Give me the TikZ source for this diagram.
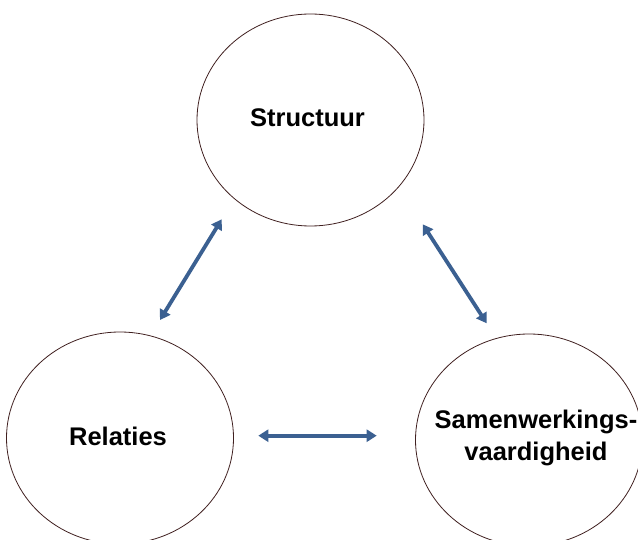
\documentclass[tikz,border=0pt]{standalone}
\usepackage{fontspec}
\setmainfont{Liberation Sans}
\usetikzlibrary{shapes.geometric}
\usetikzlibrary{arrows.meta}
\definecolor{pijlblauw}{RGB}{59,96,145}
\definecolor{randbruin}{RGB}{64,32,32}
\tikzstyle{cirkel} = [ellipse, minimum width=227pt, minimum height=212pt, inner sep=0pt, draw=randbruin, line width=0.8pt]
\tikzstyle{tekst} = [align=center, yshift=2pt, font=\fontsize{25.5}{32}\selectfont\bfseries]
\tikzstyle{pijl} = [line width=3.8pt, color=pijlblauw, {Triangle[length=10pt,width=12pt]}-{Triangle[length=10pt,width=12pt]}]

\begin{document}
\begin{tikzpicture}[x=1pt, y=-1pt]
				\useasboundingbox (0,0) rectangle (638,540);
				\node (st) at (310.5,120) [cirkel, label={[tekst,xshift=-3pt]center:Structuur}] {};
				\node (rel) at (120,438) [cirkel, label={[tekst,xshift=-2pt]center:Relaties}] {};
				\node (sv) at (529,440) [cirkel, label={[tekst,xshift=7pt]center:{Samenwerkings-\\vaardigheid}}] {};
				% vrije uiteinden van de pijlen
				\coordinate (rel-st) at (160,320);
				\coordinate (st-rel) at (221.7,219.3);
				\coordinate (st-sv) at (422.7,224.3);
				\coordinate (sv-st) at (486.7,323.3);
				\coordinate (rel-sv) at (258.3,435.7);
				\coordinate (sv-rel) at (376.7,435.7);
				\draw[pijl] (rel-st) -- (st-rel);
				\draw[pijl] (st-sv) -- (sv-st);
				\draw[pijl] (rel-sv) -- (sv-rel);
\end{tikzpicture}
\end{document}
